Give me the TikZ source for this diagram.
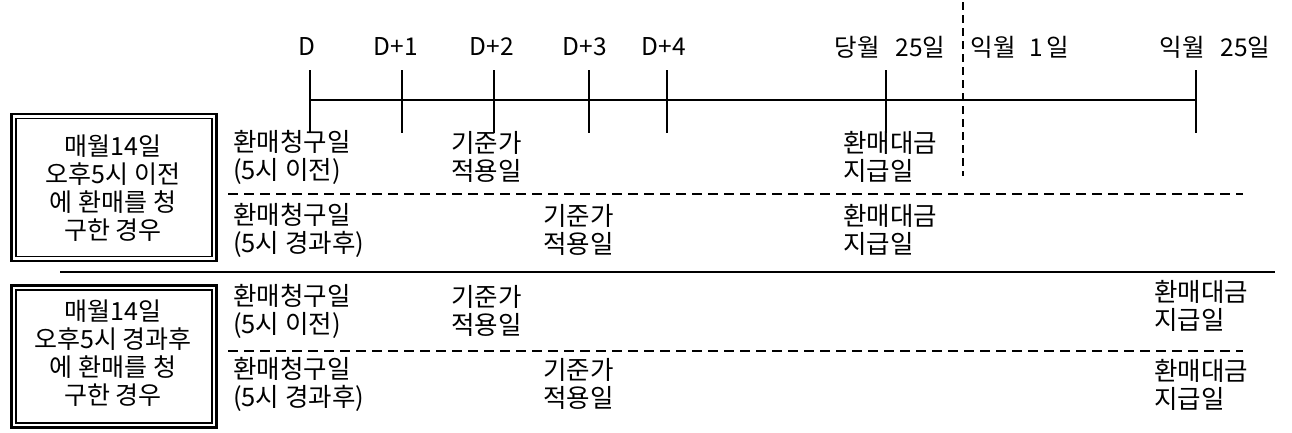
\documentclass[tikz,border=0pt]{standalone}
\usepackage{fontspec}
\newfontfamily\kr{Noto Sans CJK KR}
\begin{document}
\begin{tikzpicture}[x=1pt,y=-1pt,
  lbl/.style={font=\kr\fontsize{25.5}{28}\selectfont, inner sep=0pt, align=left, anchor=west},
  hdr/.style={font=\kr\fontsize{24.5}{28}\selectfont, inner sep=0pt},
  boxtxt/.style={font=\kr\fontsize{25}{28}\selectfont, inner sep=0pt, align=center},
  axisline/.style={line width=1.5pt},
  tickline/.style={line width=1.5pt},
  rowsep/.style={line width=1.5pt, dash pattern=on 10pt off 6pt},
  monthsep/.style={line width=1.5pt, dash pattern=on 8pt off 5pt},
  groupsep/.style={line width=2.2pt},
  innerbox/.style={draw, line width=1.6pt, inner sep=0pt, outer sep=0pt},
  outerbox/.style={line width=2.6pt}]

\useasboundingbox (0,0) rectangle (1292,432);

% timeline
\coordinate (axL) at (310,100);
\coordinate (axR) at (1196,100);
\draw[axisline] (axL) -- (axR);
\foreach \n/\x in {D/310, D1/402, D2/494, D3/589, D4/667, M25/886, N25/1196} {
  \coordinate (\n-top) at (\x,70);
  \coordinate (\n-bot) at (\x,133);
  \draw[tickline] (\n-top) -- (\n-bot);
}

% header labels
\node[hdr] (hD)   at (307,47) {D};
\node[hdr] (hD1)  at (396,47) {D+1};
\node[hdr] (hD2)  at (492,47) {D+2};
\node[hdr] (hD3)  at (585,47) {D+3};
\node[hdr] (hD4)  at (664,47) {D+4};
\node[hdr] (hM25) at (890,47) {당월\hspace{16pt}25일};
\node[hdr] (hN1)  at (1020,47) {익월\hspace{14pt}1\hspace{3pt}일};
\node[hdr] (hN25) at (1215,47) {익월\hspace{16pt}25일};

% month boundary
\coordinate (mTop) at (963,2);
\coordinate (mBot) at (963,176);
\draw[monthsep] (mTop) -- (mBot);

% separators
\coordinate (s1L) at (228,194);
\coordinate (s1R) at (1243,194);
\draw[rowsep] (s1L) -- (s1R);
\coordinate (s2L) at (228,351);
\coordinate (s2R) at (1243,351);
\draw[rowsep] (s2L) -- (s2R);
\coordinate (gL) at (60,272);
\coordinate (gR) at (1275,272);
\draw[groupsep] (gL) -- (gR);

% boxes
\node[innerbox, minimum width=196pt, minimum height=138pt] (box1) at (114,187.5) {};
\draw[outerbox] ([xshift=-4.5pt,yshift=4.5pt]box1.north west) rectangle ([xshift=4.5pt,yshift=-4.5pt]box1.south east);
\node[boxtxt] (t1) at (113,188) {매월14일\\오후5시 이전\\에 환매를 청\\구한 경우};

\node[innerbox, minimum width=196pt, minimum height=133pt] (box2) at (114,356.5) {};
\draw[outerbox] ([xshift=-4.5pt,yshift=4.5pt]box2.north west) rectangle ([xshift=4.5pt,yshift=-4.5pt]box2.south east);
\node[boxtxt] (t2) at (113,353) {매월14일\\오후5시 경과후\\에 환매를 청\\구한 경우};

% row 1
\node[lbl] (r1a) at (233,157) {환매청구일\\(5시 이전)};
\node[lbl] (r1b) at (451,157) {기준가\\적용일};
\node[lbl] (r1c) at (843,157) {환매대금\\지급일};
% row 2
\node[lbl] (r2a) at (233,230) {환매청구일\\(5시 경과후)};
\node[lbl] (r2b) at (543,230) {기준가\\적용일};
\node[lbl] (r2c) at (843,230) {환매대금\\지급일};
% row 3
\node[lbl] (r3a) at (233,311) {환매청구일\\(5시 이전)};
\node[lbl] (r3b) at (451,311) {기준가\\적용일};
\node[lbl] (r3c) at (1154,306) {환매대금\\지급일};
% row 4
\node[lbl] (r4a) at (233,384) {환매청구일\\(5시 경과후)};
\node[lbl] (r4b) at (543,384) {기준가\\적용일};
\node[lbl] (r4c) at (1154,385) {환매대금\\지급일};
\end{tikzpicture}
\end{document}
